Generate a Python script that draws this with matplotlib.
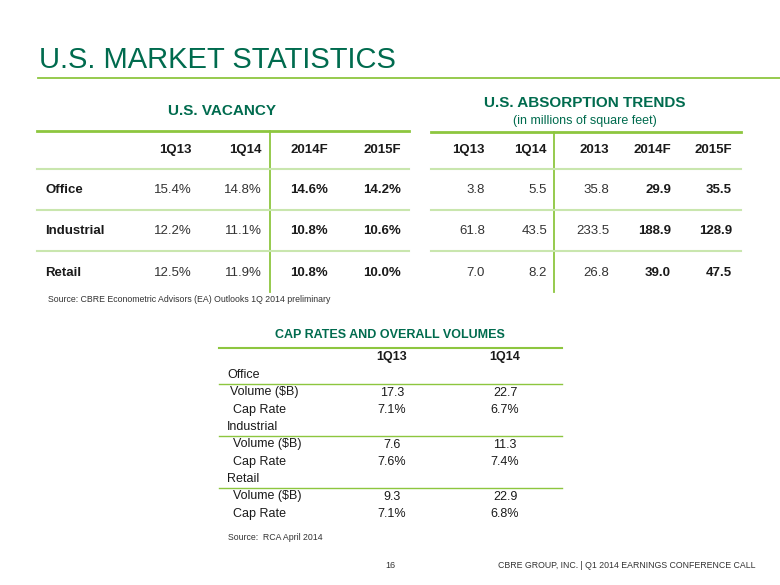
import matplotlib
matplotlib.use("Agg")
import matplotlib.pyplot as plt

plt.rcParams['font.family'] = ['Liberation Sans', 'DejaVu Sans']

DARK_GREEN = '#006B4E'
LINE_GREEN = '#8DC63F'
ROW_GREEN = '#C9E6AE'
TEXT = '#1A1A1A'
VALUE = '#333333'

# vacancy table
vac_cols = ['1Q13', '1Q14', '2014F', '2015F']
vac_rows = ['Office', 'Industrial', 'Retail']
vac_1q13 = ['15.4%', '12.2%', '12.5%']
vac_1q14 = ['14.8%', '11.1%', '11.9%']
vac_2014f = ['14.6%', '10.8%', '10.8%']
vac_2015f = ['14.2%', '10.6%', '10.0%']

# absorption table (millions of sq ft)
abs_cols = ['1Q13', '1Q14', '2013', '2014F', '2015F']
abs_1q13 = ['3.8', '61.8', '7.0']
abs_1q14 = ['5.5', '43.5', '8.2']
abs_2013 = ['35.8', '233.5', '26.8']
abs_2014f = ['29.9', '188.9', '39.0']
abs_2015f = ['35.5', '128.9', '47.5']

# cap rates and volumes
cap_cols = ['1Q13', '1Q14']
cap_sectors = ['Office', 'Industrial', 'Retail']
cap_volume_1q13 = ['17.3', '7.6', '9.3']
cap_volume_1q14 = ['22.7', '11.3', '22.9']
cap_rate_1q13 = ['7.1%', '7.6%', '7.1%']
cap_rate_1q14 = ['6.7%', '7.4%', '6.8%']

fig = plt.figure(figsize=(7.8, 5.85), dpi=100)
ax = fig.add_axes([0, 0, 1, 1])
ax.set_xlim(0, 780)
ax.set_ylim(585, 0)
ax.axis('off')

# title
ax.text(39, 60, 'U.S. MARKET STATISTICS', fontsize=21, color=DARK_GREEN,
        va='center', ha='left')
ax.plot([38, 780], [77.5, 77.5], color=LINE_GREEN, lw=1.3)

# ---- vacancy ----
ax.text(222, 111, 'U.S. VACANCY', fontsize=11, fontweight='bold',
        color=DARK_GREEN, ha='center', va='center')
ax.plot([37, 409], [131, 131], color=LINE_GREEN, lw=2)
ax.plot([270, 270], [131, 292], color=LINE_GREEN, lw=1.3)

row_y = [190, 231, 273]
row_lines = [169, 210, 251]
header_y = 150

vac_x = [192, 262, 328, 401]
vac_vals = [vac_1q13, vac_1q14, vac_2014f, vac_2015f]
for x, c in zip(vac_x, vac_cols):
    ax.text(x, header_y, c, fontsize=9.5, fontweight='bold', color=TEXT,
            ha='right', va='center')
for ly in row_lines:
    ax.plot([37, 409], [ly, ly], color=ROW_GREEN, lw=1.5)
for i, (name, y) in enumerate(zip(vac_rows, row_y)):
    ax.text(45, y, name, fontsize=9.5, fontweight='bold', color=TEXT,
            ha='left', va='center')
    for j, (x, col) in enumerate(zip(vac_x, vac_vals)):
        ax.text(x, y, col[i], fontsize=9.5, color=VALUE if j < 2 else TEXT,
                fontweight='normal' if j < 2 else 'bold',
                ha='right', va='center')

ax.text(48, 299, 'Source: CBRE Econometric Advisors (EA) Outlooks 1Q 2014 preliminary',
        fontsize=6.3, color=VALUE, ha='left', va='center')

# ---- absorption ----
ax.text(585, 103, 'U.S. ABSORPTION TRENDS', fontsize=11, fontweight='bold',
        color=DARK_GREEN, ha='center', va='center')
ax.text(585, 121, '(in millions of square feet)', fontsize=9,
        color=DARK_GREEN, ha='center', va='center')
ax.plot([431, 741], [132, 132], color=LINE_GREEN, lw=2)
ax.plot([554, 554], [132, 292], color=LINE_GREEN, lw=1.3)

abs_x = [485, 547, 609, 671, 732]
abs_vals = [abs_1q13, abs_1q14, abs_2013, abs_2014f, abs_2015f]
for x, c in zip(abs_x, abs_cols):
    ax.text(x, header_y, c, fontsize=9.5, fontweight='bold', color=TEXT,
            ha='right', va='center')
for ly in row_lines:
    ax.plot([431, 741], [ly, ly], color=ROW_GREEN, lw=1.5)
for i, y in enumerate(row_y):
    for j, (x, col) in enumerate(zip(abs_x, abs_vals)):
        ax.text(x, y, col[i], fontsize=9.5, color=VALUE if j < 3 else TEXT,
                fontweight='normal' if j < 3 else 'bold',
                ha='right', va='center')

# ---- cap rates ----
ax.text(390, 335, 'CAP RATES AND OVERALL VOLUMES', fontsize=9, fontweight='bold',
        color=DARK_GREEN, ha='center', va='center')
ax.plot([219, 562], [348, 348], color=LINE_GREEN, lw=1.5)

cap_x = [392, 505]
for x, c in zip(cap_x, cap_cols):
    ax.text(x, 357, c, fontsize=9, fontweight='bold', color=TEXT,
            ha='center', va='center')

sector_y = [375, 427, 479]
step = 17.5
for i, (sector, sy) in enumerate(zip(cap_sectors, sector_y)):
    ax.text(227, sy, sector, fontsize=9, color=TEXT, ha='left', va='center')
    ax.plot([219, 562], [sy + 8.5, sy + 8.5], color=LINE_GREEN, lw=1)
    vy = sy + step
    ry = sy + 2 * step
    ax.text(230 if i == 0 else 233, vy, 'Volume ($B)', fontsize=9, color=TEXT,
            ha='left', va='center')
    ax.text(233, ry, 'Cap Rate', fontsize=9, color=TEXT, ha='left', va='center')
    ax.text(cap_x[0], vy, cap_volume_1q13[i], fontsize=9, color=TEXT,
            ha='center', va='center')
    ax.text(cap_x[1], vy, cap_volume_1q14[i], fontsize=9, color=TEXT,
            ha='center', va='center')
    ax.text(cap_x[0], ry, cap_rate_1q13[i], fontsize=9, color=TEXT,
            ha='center', va='center')
    ax.text(cap_x[1], ry, cap_rate_1q14[i], fontsize=9, color=TEXT,
            ha='center', va='center')

ax.text(228, 537, 'Source:  RCA April 2014', fontsize=6.3, color=VALUE,
        ha='left', va='center')

# footer
ax.text(390, 565, '16', fontsize=6.5, color=VALUE, ha='center', va='center')
ax.text(755, 565, 'CBRE GROUP, INC. | Q1 2014 EARNINGS CONFERENCE CALL',
        fontsize=6.3, color=VALUE, ha='right', va='center')

fig.savefig('out.png', dpi=100)
